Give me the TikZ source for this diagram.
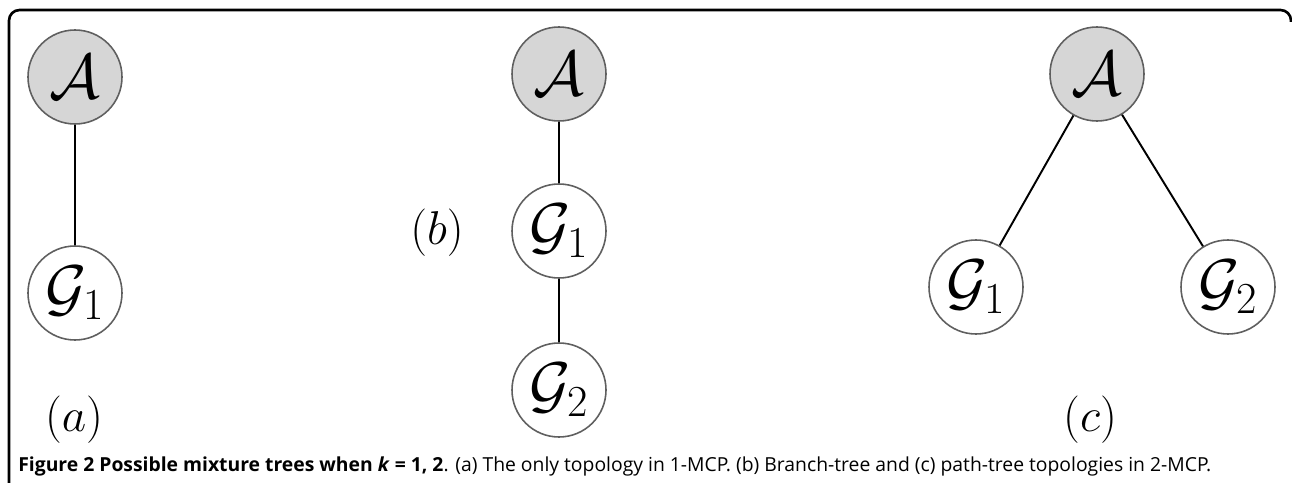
\RequirePackage{fix-cm}
\documentclass[tikz,border=0pt]{standalone}
\usepackage{amsmath,amssymb}
\usepackage{fontspec}
\newfontfamily\capfont{Open Sans}
\usepackage{tikz}
\usetikzlibrary{positioning}
\definecolor{nodegray}{RGB}{214,214,214}
\definecolor{rimgray}{RGB}{95,95,95}
\tikzset{MTnode/.style={shape=circle,draw=rimgray,line width=0.9pt,fill=white,minimum size=1.88cm,inner sep=0pt,font=\fontsize{36}{40}\selectfont}}
\tikzset{MTroot/.style={MTnode,fill=nodegray}}
\tikzset{MTlabel/.style={font=\fontsize{27}{30}\selectfont,inner sep=0pt}}
\tikzset{MTedge/.style={line width=1.1pt}}

\begin{document}
\begin{tikzpicture}[x=0.2mm,y=-0.2mm]
	\useasboundingbox (0,0) rectangle (1292,483);
	\draw[line width=1.5pt,rounded corners=6pt] (9,490) -- (9,10) -- (1291,10) -- (1291,22);
	%
	\node[MTroot] (Aa) at (75,77) {$\mathcal{A}$};
	\node[MTnode] (Ga1) at (75,293) {$\mathcal{G}_1$};
	\node[MTlabel] (la) at (74,420) {$(a)$};
	%
	\node[MTroot] (Ab) at (559,74) {$\mathcal{A}$};
	\node[MTnode] (Gb1) at (559,231) {$\mathcal{G}_1$};
	\node[MTnode] (Gb2) at (559,390) {$\mathcal{G}_2$};
	\node[MTlabel] (lb) at (437,233) {$(b)$};
	%
	\node[MTroot] (Ac) at (1097,74) {$\mathcal{A}$};
	\node[MTnode] (Gc1) at (976,287) {$\mathcal{G}_1$};
	\node[MTnode] (Gc2) at (1228,287) {$\mathcal{G}_2$};
	\node[MTlabel] (lc) at (1090,420) {$(c)$};
	%
	\draw[MTedge] (Aa) -- (Ga1);
	\draw[MTedge] (Ab) -- (Gb1);
	\draw[MTedge] (Gb1) -- (Gb2);
	\draw[MTedge] (Ac) -- (Gc1);
	\draw[MTedge] (Ac) -- (Gc2);
	%
	\node[anchor=base west,inner sep=0pt,font=\capfont\fontsize{11}{14}\selectfont] (cap) at (18,471)
		{\textbf{Figure 2 Possible mixture trees when \textit{k} = 1, 2}. (a) The only topology in 1-MCP. (b) Branch-tree and (c) path-tree topologies in 2-MCP.};
\end{tikzpicture}
\end{document}
